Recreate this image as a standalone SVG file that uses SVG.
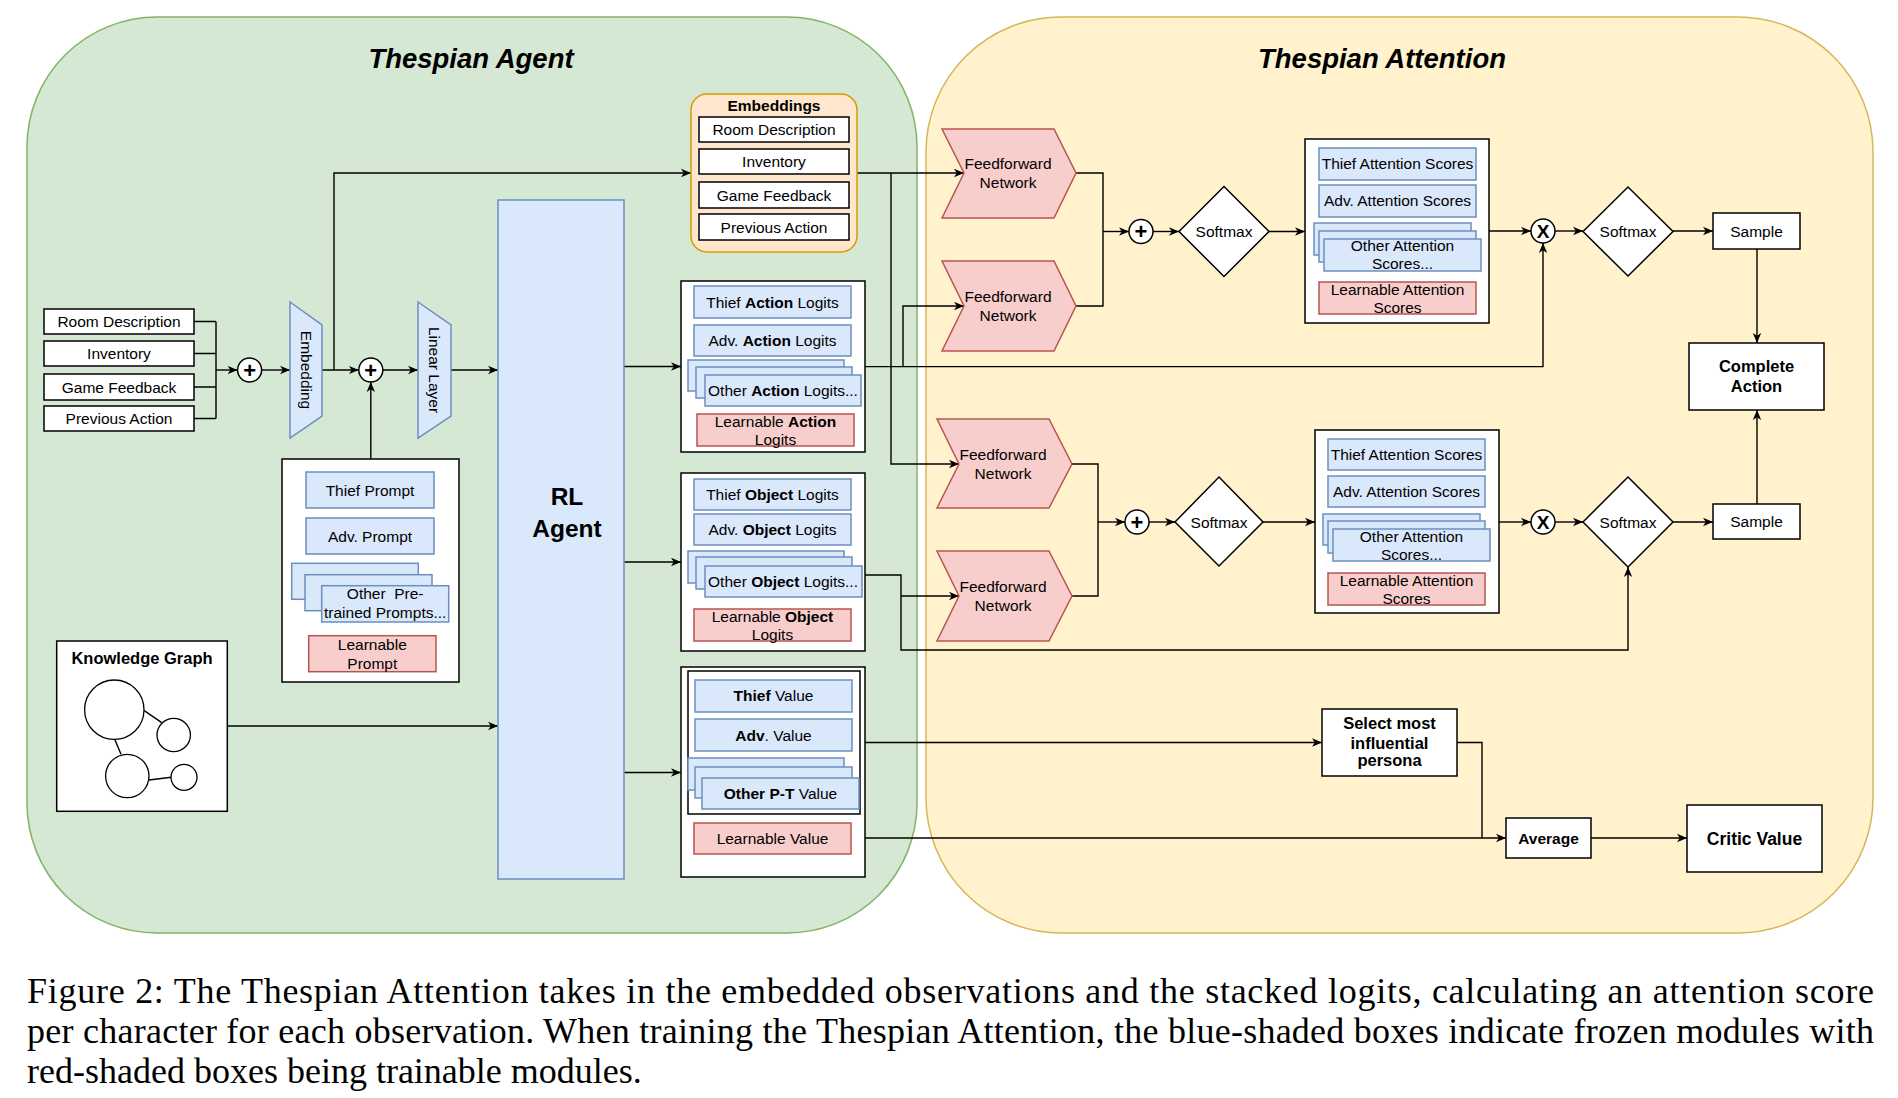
<svg xmlns="http://www.w3.org/2000/svg" width="1898" height="1098" viewBox="0 0 1898 1098">
<defs>
<marker id="arr" viewBox="0 0 10 10" refX="10" refY="5" markerWidth="10" markerHeight="10" markerUnits="userSpaceOnUse" orient="auto"><path d="M0,0.8 L10,5 L0,9.2 L2.8,5 Z" fill="#000"/></marker>
<style>
.box{fill:#fff;stroke:#000;stroke-width:1.5}
.blue{fill:#dae8fc;stroke:#6c8ebf;stroke-width:1.5}
.red{fill:#f8cecc;stroke:#b85450;stroke-width:1.5}
.t{font-family:"Liberation Sans",Arial,sans-serif;font-size:15.5px;text-anchor:middle;fill:#000}
.b{font-weight:bold}
.big{font-size:16.5px;font-weight:bold}
.title{font-family:"Liberation Sans",Arial,sans-serif;font-size:27.5px;font-weight:bold;font-style:italic;text-anchor:middle}
.cap{font-family:"Liberation Serif","Times New Roman",serif;font-size:36px;fill:#000}
.c{fill:none;stroke:#000;stroke-width:1.4}
.a{fill:none;stroke:#000;stroke-width:1.4;marker-end:url(#arr)}
.kg{fill:#fff;stroke:#000;stroke-width:1.3}
</style>
</defs>
<rect width="1898" height="1098" fill="#fff"/>

<g id="panel-agent">
<rect x="27" y="17" width="890" height="916" rx="130" fill="#d5e8d4" stroke="#82b366" stroke-width="1.5"/>
<text class="title" x="471" y="68">Thespian Agent</text>
</g>
<g id="panel-attention">
<rect x="926" y="17" width="947" height="916" rx="135" fill="#fff2cc" stroke="#d6b656" stroke-width="1.5"/>
<text class="title" x="1382" y="68">Thespian Attention</text>
</g>

<g id="connectors">
<path class="c" d="M194,321.5 H216 M194,353.5 H216 M194,387 H216 M194,418.5 H216 M216,321.5 V418.5"/>
<path class="a" d="M216,370 H237.6"/>
<path class="a" d="M261.6,370 H290"/>
<path class="a" d="M322,370 H358.8"/>
<path class="a" d="M334,370 V173 H691"/>
<path class="a" d="M382.8,370 H418"/>
<path class="a" d="M451,370 H498"/>
<path class="a" d="M370.8,459 V382"/>
<path class="a" d="M227,726 H498"/>
<path class="a" d="M624,366.5 H681"/>
<path class="a" d="M624,562 H681"/>
<path class="a" d="M624,772.5 H681"/>
<path class="a" d="M857,173 H964"/>
<path class="a" d="M891,173 V464 H959"/>
<path class="a" d="M861,366.6 H1543 V243"/>
<path class="a" d="M903,366.6 V306 H964"/>
<path class="a" d="M862,575 H901 V650 H1628 V567"/>
<path class="a" d="M901,596 H959"/>
<path class="a" d="M860,742.5 H1322"/>
<path class="c" d="M1457,742.5 H1482 V838"/>
<path class="a" d="M854,838 H1506"/>
<path class="a" d="M1591,838 H1687"/>
<path class="c" d="M1076,173 H1103 V306 H1076"/>
<path class="a" d="M1103,231.5 H1129"/>
<path class="a" d="M1153,231.5 H1179"/>
<path class="a" d="M1269,231.5 H1305"/>
<path class="a" d="M1489,231 H1531"/>
<path class="a" d="M1555,231 H1583"/>
<path class="a" d="M1673,231 H1713"/>
<path class="a" d="M1757,249 V343"/>
<path class="a" d="M1757,504 V410"/>
<path class="c" d="M1072,464 H1098 V596 H1072"/>
<path class="a" d="M1098,522 H1125"/>
<path class="a" d="M1149,522 H1175"/>
<path class="a" d="M1263,522 H1315"/>
<path class="a" d="M1499,522 H1531"/>
<path class="a" d="M1555,522 H1583"/>
<path class="a" d="M1673,522 H1713"/>
</g>

<g id="input-room"><rect class="box" x="44" y="309" width="150" height="25"/><text class="t" x="119" y="327">Room Description</text></g>
<g id="input-inventory"><rect class="box" x="44" y="341" width="150" height="25"/><text class="t" x="119" y="359">Inventory</text></g>
<g id="input-feedback"><rect class="box" x="44" y="374" width="150" height="26"/><text class="t" x="119" y="392.5">Game Feedback</text></g>
<g id="input-prev"><rect class="box" x="44" y="406" width="150" height="25"/><text class="t" x="119" y="424">Previous Action</text></g>

<g id="plus-1"><circle class="box" cx="249.6" cy="370" r="12"/><text class="t b" x="249.6" y="377.8" style="font-size:22px">+</text></g>
<g id="embedding-layer"><polygon class="blue" points="290,302 322,325 322,416 290,438"/><text class="t" transform="translate(306,370) rotate(90)" y="5.5">Embedding</text></g>
<g id="plus-2"><circle class="box" cx="370.8" cy="370" r="12"/><text class="t b" x="370.8" y="377.8" style="font-size:22px">+</text></g>
<g id="linear-layer"><polygon class="blue" points="418,302 451,325 451,416 418,438"/><text class="t" transform="translate(434.5,370) rotate(90)" y="5.5">Linear Layer</text></g>

<g id="prompts">
<rect class="box" x="282" y="459" width="177" height="223"/>
<rect class="blue" x="306" y="472" width="128" height="36"/><text class="t" x="370" y="495.5">Thief Prompt</text>
<rect class="blue" x="306" y="518" width="128" height="36"/><text class="t" x="370" y="541.5">Adv. Prompt</text>
<rect class="blue" x="291.7" y="563.3" width="126.6" height="36"/>
<rect class="blue" x="305" y="574.7" width="127" height="36"/>
<rect class="blue" x="321.7" y="585.7" width="127" height="36.3"/>
<text class="t" x="385.2" y="599">Other&#160; Pre-</text><text class="t" x="385.2" y="618.3">trained Prompts...</text>
<rect class="red" x="308.7" y="635.7" width="127.3" height="36"/>
<text class="t" x="372.3" y="650">Learnable</text><text class="t" x="372.3" y="669">Prompt</text>
</g>

<g id="knowledge-graph">
<rect class="box" x="56.7" y="641" width="170.6" height="170.3"/>
<text class="t big" x="142" y="664">Knowledge Graph</text>
<path class="c" d="M144.3,710.7 L161.7,722.7 M114.7,739.3 L121,754.3 M149,780 L171.3,777.3" stroke-width="1.3"/>
<circle class="kg" cx="114.3" cy="709.7" r="29.7"/>
<circle class="kg" cx="173.7" cy="735" r="16.7"/>
<circle class="kg" cx="127.3" cy="776" r="21.7"/>
<circle class="kg" cx="184" cy="777.3" r="13"/>
</g>

<g id="rl-agent">
<rect class="blue" x="498" y="200" width="126" height="679"/>
<text class="t b" x="567" y="505" style="font-size:24.5px">RL</text>
<text class="t b" x="567" y="537" style="font-size:24.5px">Agent</text>
</g>

<g id="embeddings">
<rect x="691" y="94" width="166" height="158" rx="16" fill="#ffe6cc" stroke="#d79b00" stroke-width="1.5"/>
<text class="t b" x="774" y="111">Embeddings</text>
<rect class="box" x="699" y="117" width="150" height="25"/><text class="t" x="774" y="135">Room Description</text>
<rect class="box" x="699" y="149" width="150" height="25"/><text class="t" x="774" y="167">Inventory</text>
<rect class="box" x="699" y="182" width="150" height="26"/><text class="t" x="774" y="200.5">Game Feedback</text>
<rect class="box" x="699" y="214" width="150" height="26"/><text class="t" x="774" y="232.5">Previous Action</text>
</g>

<g id="action-logits">
<rect class="box" x="681" y="281" width="184" height="171"/>
<rect class="blue" x="694" y="286" width="157" height="32"/><text class="t" x="772.5" y="307.5">Thief <tspan class="b">Action</tspan> Logits</text>
<rect class="blue" x="694" y="325" width="157" height="31"/><text class="t" x="772.5" y="346">Adv. <tspan class="b">Action</tspan> Logits</text>
<rect class="blue" x="688" y="360" width="156" height="31"/>
<rect class="blue" x="696" y="367" width="156" height="31"/>
<rect class="blue" x="705" y="375" width="156" height="31"/><text class="t" x="783" y="396">Other <tspan class="b">Action</tspan> Logits...</text>
<rect class="red" x="697" y="414" width="157" height="32"/>
<text class="t" x="775.5" y="426.5">Learnable <tspan class="b">Action</tspan></text><text class="t" x="775.5" y="445">Logits</text>
</g>

<g id="object-logits">
<rect class="box" x="681" y="473" width="184" height="178"/>
<rect class="blue" x="694" y="479" width="157" height="31"/><text class="t" x="772.5" y="500">Thief <tspan class="b">Object</tspan> Logits</text>
<rect class="blue" x="694" y="514" width="157" height="31"/><text class="t" x="772.5" y="535">Adv. <tspan class="b">Object</tspan> Logits</text>
<rect class="blue" x="688" y="551" width="156" height="32"/>
<rect class="blue" x="696" y="557" width="156" height="32"/>
<rect class="blue" x="705" y="566" width="157" height="31"/><text class="t" x="783" y="587">Other <tspan class="b">Object</tspan> Logits...</text>
<rect class="red" x="694" y="609" width="157" height="32"/>
<text class="t" x="772.5" y="621.7">Learnable <tspan class="b">Object</tspan></text><text class="t" x="772.5" y="640">Logits</text>
</g>

<g id="value-heads">
<rect class="box" x="681" y="667" width="184" height="210"/>
<rect class="box" x="688" y="671" width="172" height="143"/>
<rect class="blue" x="695" y="680" width="157" height="32"/><text class="t" x="773.5" y="701"><tspan class="b">Thief</tspan> Value</text>
<rect class="blue" x="695" y="719" width="157" height="32"/><text class="t" x="773.5" y="740.5"><tspan class="b">Adv</tspan>. Value</text>
<rect class="blue" x="688" y="758" width="156" height="32"/>
<rect class="blue" x="695" y="767" width="157" height="31"/>
<rect class="blue" x="702" y="778" width="157" height="31"/><text class="t" x="780.5" y="799"><tspan class="b">Other P-T</tspan> Value</text>
<rect class="red" x="694" y="823" width="157" height="31"/><text class="t" x="772.5" y="844">Learnable Value</text>
</g>

<g id="ffn-1"><polygon class="red" points="942,129 1054,129 1076,173 1054,218 942,218 964,173"/><text class="t" x="1008" y="169">Feedforward</text><text class="t" x="1008" y="188">Network</text></g>
<g id="ffn-2"><polygon class="red" points="942,261 1054,261 1076,306 1054,351 942,351 964,306"/><text class="t" x="1008" y="302">Feedforward</text><text class="t" x="1008" y="321">Network</text></g>
<g id="ffn-3"><polygon class="red" points="937,419 1049,419 1072,464 1049,508 937,508 959,464"/><text class="t" x="1003" y="460">Feedforward</text><text class="t" x="1003" y="479">Network</text></g>
<g id="ffn-4"><polygon class="red" points="937,551 1049,551 1072,596 1049,641 937,641 959,596"/><text class="t" x="1003" y="592">Feedforward</text><text class="t" x="1003" y="611">Network</text></g>

<g id="plus-3"><circle class="box" cx="1141" cy="231.5" r="12"/><text class="t b" x="1141" y="239.3" style="font-size:22px">+</text></g>
<g id="plus-4"><circle class="box" cx="1137" cy="522" r="12"/><text class="t b" x="1137" y="529.8" style="font-size:22px">+</text></g>

<g id="softmax-1"><polygon class="box" points="1179,231.5 1224,186.5 1269,231.5 1224,276.5"/><text class="t" x="1224" y="237">Softmax</text></g>
<g id="softmax-2"><polygon class="box" points="1175,522 1219,477 1263,522 1219,566"/><text class="t" x="1219" y="527.5">Softmax</text></g>

<g id="attention-1">
<rect class="box" x="1305" y="139" width="184" height="184"/>
<rect class="blue" x="1319" y="148" width="157" height="32"/><text class="t" x="1397.5" y="169">Thief Attention Scores</text>
<rect class="blue" x="1319" y="185" width="157" height="32"/><text class="t" x="1397.5" y="206">Adv. Attention Scores</text>
<rect class="blue" x="1314" y="223" width="157" height="32"/>
<rect class="blue" x="1319" y="231" width="157" height="31"/>
<rect class="blue" x="1324" y="239" width="157" height="32"/>
<text class="t" x="1402.5" y="251">Other Attention</text><text class="t" x="1402.5" y="269.3">Scores...</text>
<rect class="red" x="1319" y="282" width="157" height="32"/>
<text class="t" x="1397.5" y="295">Learnable Attention</text><text class="t" x="1397.5" y="313.3">Scores</text>
</g>

<g id="attention-2">
<rect class="box" x="1315" y="430" width="184" height="183"/>
<rect class="blue" x="1328" y="439" width="157" height="31"/><text class="t" x="1406.5" y="459.5">Thief Attention Scores</text>
<rect class="blue" x="1328" y="476" width="157" height="31"/><text class="t" x="1406.5" y="496.5">Adv. Attention Scores</text>
<rect class="blue" x="1323" y="514" width="157" height="31"/>
<rect class="blue" x="1328" y="521" width="157" height="32"/>
<rect class="blue" x="1333" y="529" width="157" height="32"/>
<text class="t" x="1411.5" y="541.7">Other Attention</text><text class="t" x="1411.5" y="560">Scores...</text>
<rect class="red" x="1328" y="573" width="157" height="32"/>
<text class="t" x="1406.5" y="585.7">Learnable Attention</text><text class="t" x="1406.5" y="604">Scores</text>
</g>

<g id="mult-1"><circle class="box" cx="1543" cy="231" r="12"/><text class="t b" x="1543" y="238" style="font-size:19px">X</text></g>
<g id="mult-2"><circle class="box" cx="1543" cy="522" r="12"/><text class="t b" x="1543" y="529" style="font-size:19px">X</text></g>

<g id="softmax-3"><polygon class="box" points="1583,231.5 1628,187 1673,231.5 1628,276"/><text class="t" x="1628" y="237">Softmax</text></g>
<g id="softmax-4"><polygon class="box" points="1583,522 1628,477 1673,522 1628,567"/><text class="t" x="1628" y="527.5">Softmax</text></g>

<g id="sample-1"><rect class="box" x="1713" y="213" width="87" height="36"/><text class="t" x="1756.5" y="236.5">Sample</text></g>
<g id="sample-2"><rect class="box" x="1713" y="504" width="87" height="35"/><text class="t" x="1756.5" y="527">Sample</text></g>

<g id="complete-action"><rect class="box" x="1689" y="343" width="135" height="67"/><text class="t big" x="1756.5" y="372.3">Complete</text><text class="t big" x="1756.5" y="392.3">Action</text></g>

<g id="select-persona"><rect class="box" x="1322" y="709" width="135" height="67"/><text class="t big" x="1389.5" y="729">Select most</text><text class="t big" x="1389.5" y="749">influential</text><text class="t big" x="1389.5" y="766">persona</text></g>

<g id="average"><rect class="box" x="1506" y="818" width="85" height="40"/><text class="t b" x="1548.5" y="843.5">Average</text></g>

<g id="critic-value"><rect class="box" x="1687" y="805" width="135" height="67"/><text class="t b" x="1754.5" y="845" style="font-size:17.5px">Critic Value</text></g>

<g id="caption">
<text class="cap" x="27" y="1003" textLength="1847" lengthAdjust="spacing">Figure 2: The Thespian Attention takes in the embedded observations and the stacked logits, calculating an attention score</text>
<text class="cap" x="27" y="1043" textLength="1847" lengthAdjust="spacing">per character for each observation. When training the Thespian Attention, the blue-shaded boxes indicate frozen modules with</text>
<text class="cap" x="27" y="1083">red-shaded boxes being trainable modules.</text>
</g>
</svg>
